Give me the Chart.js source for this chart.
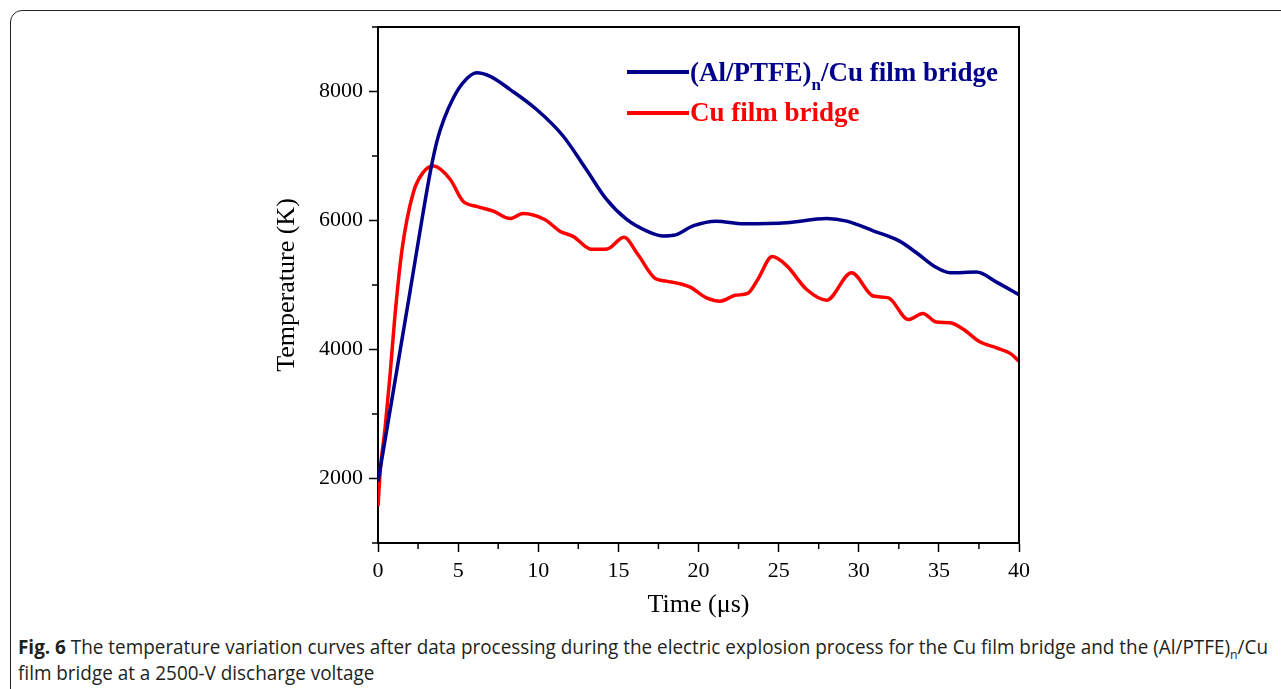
<!DOCTYPE html>
<html>
<head>
<meta charset="utf-8">
<script src="https://cdn.jsdelivr.net/npm/chart.js@4"></script>
<style>
body { margin: 0; width: 1281px; height: 689px; overflow: hidden; background: #fff; position: relative; }
#card { position: absolute; left: 10px; top: 10px; width: 1290px; height: 700px; border: 1.5px solid #222; border-radius: 12px; }
#chart { position: absolute; left: 0; top: 0; }
.swatch { position: absolute; left: 627px; width: 62px; height: 3.5px; }
.legend { position: absolute; left: 690px; font-family: "Liberation Serif", serif; font-weight: bold; font-size: 27px; line-height: 30px; white-space: nowrap; }
.legend .sub { font-size: 17px; position: relative; top: 9px; }
.caption { position: absolute; left: 18px; font-family: "Open Sans", sans-serif; font-size: 20px; line-height: 26px; white-space: nowrap; transform-origin: 0 0; color: #231f20; }
.caption .sub { font-size: 13px; position: relative; top: 5px; }
</style>
</head>
<body>
<div id="card"></div>
<canvas id="chart" width="1281" height="625"></canvas>

<div class="swatch" style="top:70px; background:#00008b;"></div>
<div class="legend" style="top:57px; color:#00008b;">(Al/PTFE)<span class="sub">n</span>/Cu film bridge</div>
<div class="swatch" style="top:111px; background:#ff0000;"></div>
<div class="legend" style="top:97px; color:#ff0000;">Cu film bridge</div>

<div class="caption" id="cap1" style="top:634px;"><b>Fig. 6</b> The temperature variation curves after data processing during the electric explosion process for the Cu film bridge and the (Al/PTFE)<span class="sub">n</span>/Cu</div>
<div class="caption" id="cap2" style="top:660px;">film bridge at a 2500-V discharge voltage</div>

<script>
// (Al/PTFE)n/Cu film bridge
var timeBlue = [0, 1, 2, 2.8, 3.3, 3.7, 4.1, 4.7, 5.3, 6.15, 7.0, 8.25, 9.9, 11.55, 13.0, 14.25, 15.5, 16.75, 17.8, 18.45, 19.7, 21.1, 22.8, 25.5, 28.0, 29.25, 30.9, 32.55, 33.6, 34.85, 35.7, 37.35, 38.6, 40];
var tempBlue = [1950, 3420, 4900, 6100, 6800, 7250, 7560, 7900, 8135, 8290, 8235, 8030, 7720, 7310, 6790, 6330, 6020, 5840, 5760, 5770, 5920, 5990, 5950, 5965, 6030, 5990, 5840, 5680, 5500, 5270, 5190, 5200, 5045, 4850];

// Cu film bridge
var timeRed = [0, 0.15, 0.45, 0.75, 1.05, 1.5, 2.2, 2.8, 3.45, 4.5, 5.3, 6.15, 7.2, 8.25, 9.05, 10.4, 11.35, 12.2, 13.3, 14.3, 15.35, 16.2, 17.3, 18.0, 19.45, 20.5, 21.35, 22.3, 23.1, 23.7, 24.6, 25.5, 26.75, 28.0, 29.55, 30.9, 31.85, 33.1, 34.0, 34.85, 35.7, 36.55, 37.55, 38.6, 39.45, 40];
var tempRed = [1570, 2150, 2800, 3600, 4500, 5550, 6430, 6740, 6845, 6640, 6300, 6220, 6145, 6030, 6110, 6015, 5835, 5750, 5555, 5560, 5740, 5480, 5100, 5060, 4970, 4800, 4750, 4840, 4875, 5085, 5440, 5300, 4930, 4765, 5190, 4830, 4800, 4465, 4560, 4425, 4415, 4310, 4120, 4025, 3940, 3820];

var xTicksMajor = 5;
var yTicksMajor = 2000;

function toPoints(xs, ys) {
    return xs.map(function(x, i) { return {x: x, y: ys[i]}; });
}

var frameAndMinor = {
    id: 'frameAndMinor',
    afterDraw: function(chart) {
        var ctx = chart.ctx;
        var a = chart.chartArea;
        var sx = chart.scales.x, sy = chart.scales.y;
        ctx.save();
        ctx.strokeStyle = '#000';
        ctx.lineWidth = 2;
        ctx.beginPath();
        ctx.moveTo(a.left - 1, a.top);
        ctx.lineTo(a.right, a.top);
        ctx.lineTo(a.right, a.bottom);
        ctx.stroke();
        ctx.lineWidth = 1.5;
        sy.ticks.forEach(function(t) {
            if (t.value % yTicksMajor !== 0) {
                var py = sy.getPixelForValue(t.value);
                ctx.beginPath(); ctx.moveTo(a.left - 6, py); ctx.lineTo(a.left, py); ctx.stroke();
            }
        });
        sx.ticks.forEach(function(t) {
            if (t.value % xTicksMajor !== 0) {
                var px = sx.getPixelForValue(t.value);
                ctx.beginPath(); ctx.moveTo(px, a.bottom); ctx.lineTo(px, a.bottom + 6); ctx.stroke();
            }
        });
        ctx.restore();
    }
};

var ctx = document.getElementById('chart').getContext('2d');
var chart = new Chart(ctx, {
    type: 'line',
    data: {
        datasets: [
            {
                label: '(Al/PTFE)n/Cu film bridge',
                data: toPoints(timeBlue, tempBlue),
                borderColor: '#00008b',
                borderWidth: 3.5,
                pointRadius: 0,
                cubicInterpolationMode: 'monotone',
                fill: false
            },
            {
                label: 'Cu film bridge',
                data: toPoints(timeRed, tempRed),
                borderColor: '#ff0000',
                borderWidth: 3.5,
                pointRadius: 0,
                cubicInterpolationMode: 'monotone',
                fill: false
            }
        ]
    },
    options: {
        responsive: false,
        animation: false,
        devicePixelRatio: 1,
        layout: { padding: { left: 0, right: 262, top: 27, bottom: 0 } },
        plugins: {
            legend: { display: false },
            tooltip: { enabled: false }
        },
        scales: {
            x: {
                type: 'linear',
                min: 0,
                max: 40,
                afterFit: function(scale) { scale.height = 82; },
                border: { display: true, color: '#000', width: 2 },
                grid: {
                    drawOnChartArea: false,
                    tickLength: 9,
                    tickWidth: 1.5,
                    tickColor: function(c) { return c.tick && c.tick.value % xTicksMajor === 0 ? '#000' : 'rgba(0,0,0,0)'; }
                },
                ticks: {
                    stepSize: 2.5,
                    autoSkip: false,
                    maxRotation: 0,
                    padding: 6,
                    color: '#000',
                    font: { family: 'Liberation Serif', size: 22 },
                    callback: function(v) { return v % xTicksMajor === 0 ? v : ''; }
                },
                title: {
                    display: true,
                    text: 'Time (μs)',
                    color: '#000',
                    font: { family: 'Liberation Serif', size: 26 },
                    padding: { top: 0, bottom: 4 }
                }
            },
            y: {
                min: 1000,
                max: 9000,
                afterFit: function(scale) { scale.width = 378; },
                border: { display: true, color: '#000', width: 2 },
                grid: {
                    drawOnChartArea: false,
                    tickLength: 9,
                    tickWidth: 1.5,
                    tickColor: function(c) { return c.tick && c.tick.value % yTicksMajor === 0 ? '#000' : 'rgba(0,0,0,0)'; }
                },
                ticks: {
                    stepSize: 1000,
                    autoSkip: false,
                    padding: 6,
                    color: '#000',
                    font: { family: 'Liberation Serif', size: 22 },
                    callback: function(v) { return (v % yTicksMajor === 0 && v >= 2000 && v <= 8000) ? v : ''; }
                },
                title: {
                    display: true,
                    text: 'Temperature (K)',
                    color: '#000',
                    font: { family: 'Liberation Serif', size: 26 },
                    padding: { top: 272, bottom: 0 }
                }
            }
        }
    },
    plugins: [frameAndMinor]
});

// squeeze the caption lines to the width of the original
var cap1 = document.getElementById('cap1');
var cap2 = document.getElementById('cap2');
var k = 1250 / cap1.getBoundingClientRect().width;
cap1.style.transform = 'scaleX(' + k + ')';
cap2.style.transform = 'scaleX(' + k + ')';
</script>
</body>
</html>
